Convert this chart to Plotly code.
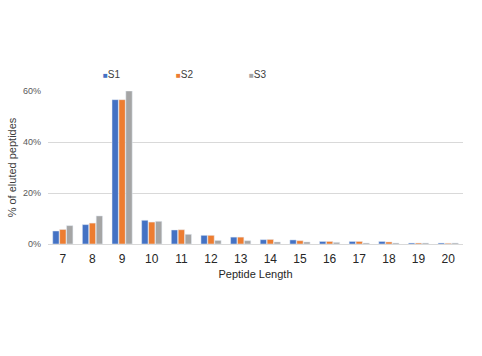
import plotly.graph_objects as go

categories = ["7", "8", "9", "10", "11", "12", "13", "14", "15", "16", "17", "18", "19", "20"]
s1 = [5.1, 7.6, 56.6, 9.3, 5.5, 3.4, 2.7, 1.7, 1.6, 1.0, 1.0, 1.0, 0.4, 0.4]
s2 = [5.7, 8.2, 56.6, 8.6, 5.6, 3.4, 2.7, 1.8, 1.3, 1.0, 1.0, 0.8, 0.4, 0.3]
s3 = [7.2, 11.0, 60.0, 8.9, 3.8, 1.4, 1.3, 0.8, 0.8, 0.65, 0.4, 0.4, 0.4, 0.4]
series_names = ["S1", "S2", "S3"]
colors = ["#4472C4", "#ED7D31", "#A5A5A5"]

fig = go.Figure()
for name, vals, col in zip(series_names, [s1, s2, s3], colors):
    fig.add_trace(go.Bar(x=categories, y=vals, name=name, marker_color=col,
                         showlegend=False))
    fig.add_trace(go.Scatter(x=[None], y=[None], mode="markers",
                             name=f'<span style="color:{col};font-size:8px">■</span>{name}',
                             marker=dict(symbol="square", size=1, color="rgba(0,0,0,0)")))

font = "Liberation Sans, Arial, sans-serif"
fig.update_layout(
    width=482, height=356,
    margin=dict(l=48, r=19, t=91, b=112),
    plot_bgcolor="white", paper_bgcolor="white",
    barmode="group", bargap=0.3, bargroupgap=0.08,
    font=dict(family=font, size=11, color="#404040"),
    legend=dict(orientation="h", x=0.036, xanchor="left", y=1.11, yanchor="middle",
                entrywidth=28, entrywidthmode="pixels", itemwidth=30,
                font=dict(size=10, color="#404040"), tracegroupgap=0),
    xaxis=dict(title=dict(text="Peptide Length", font=dict(size=11, color="#262626"), standoff=4),
               tickfont=dict(size=12, color="#262626"), showline=True, linecolor="#D9D9D9",
               ticks="", showgrid=False, automargin=False, ticklabelstandoff=4),
    yaxis=dict(title=dict(text="% of eluted peptides", font=dict(size=11, color="#404040"), standoff=4),
               range=[0, 60], tickvals=[0, 20, 40, 60], ticktext=["0%", "20%", "40%", "60%"],
               tickfont=dict(size=9, color="#595959"), showgrid=True, gridcolor="#D9D9D9",
               zeroline=False, showline=False, ticks="", automargin=False, ticklabelstandoff=6),
)
fig.write_html("out.html", config={"displayModeBar": False},
               post_script="document.body.style.margin='0';")
